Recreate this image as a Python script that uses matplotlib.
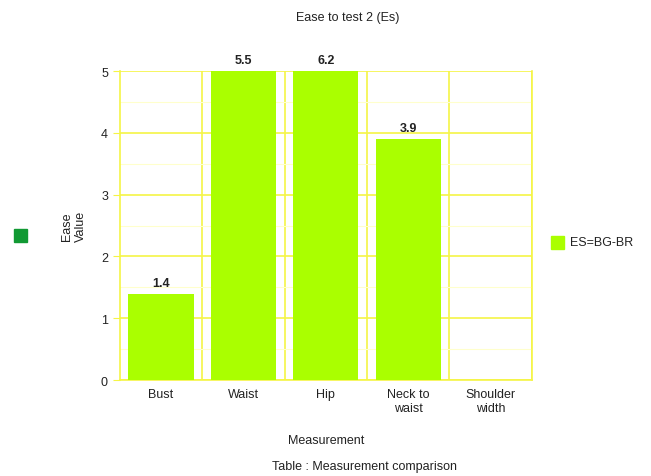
import matplotlib
matplotlib.use("Agg")
import matplotlib.pyplot as plt
from matplotlib.patches import Rectangle

plt.rcParams['font.family'] = ['Liberation Sans', 'DejaVu Sans']

categories = ["Bust", "Waist", "Hip", "Neck to\nwaist", "Shoulder\nwidth"]
values = [1.4, 5.5, 6.2, 3.9, None]
series_name = "ES=BG-BR"
y_max = 5

bar_col = "#aaff00"
grid_col = "#f5f545"

fig = plt.figure(figsize=(6.51, 4.77), dpi=100)
ax = fig.add_axes([0.184, 0.201, 0.633, 0.648])

xs = list(range(len(categories)))
shown = [v if v is not None else 0 for v in values]
ax.bar(xs, shown, width=0.79, color=bar_col, zorder=3)

for x, v in zip(xs, values):
    if v is None:
        continue
    ax.text(x, min(v, y_max) + 0.08, f"{v:.1f}", ha="center", va="bottom",
            fontsize=9, fontweight="bold", color="#222222", clip_on=False)

ax.set_xlim(-0.5, len(categories) - 0.5)
ax.set_ylim(0, y_max)
ax.set_yticks(range(0, y_max + 1))
ax.set_yticks([i + 0.5 for i in range(y_max)], minor=True)
ax.set_xticks(xs)
ax.set_xticklabels(categories, fontsize=9, color="#222222")
ax.tick_params(axis="y", which="major", labelsize=9, labelcolor="#222222",
               color=grid_col, length=5)
ax.tick_params(axis="y", which="minor", length=0)
ax.tick_params(axis="x", length=0, pad=6)

ax.grid(axis="y", which="major", color=grid_col, lw=1.2, zorder=0)
ax.grid(axis="y", which="minor", color="#ffffcc", lw=0.8, zorder=0)
for b in [i + 0.5 for i in xs]:
    ax.axvline(b, color=grid_col, lw=1.2, zorder=0)

ax.spines["top"].set_visible(False)
for s in ["left", "bottom", "right"]:
    ax.spines[s].set_color(grid_col)
    ax.spines[s].set_linewidth(1.2)

ax.set_xlabel("Measurement", fontsize=9, color="#222222", labelpad=14)
ax.set_ylabel("Ease\nValue", fontsize=9, color="#222222", labelpad=10)

fig.text(348 / 651, 1 - 18 / 477, "Ease to test 2 (Es)", ha="center",
         va="center", fontsize=9, color="#222222")
fig.text(365 / 651, 1 - 467 / 477, "Table : Measurement comparison",
         ha="center", va="center", fontsize=9, color="#222222")

# legend markers
fig.patches.append(Rectangle((14 / 651, 1 - 243 / 477), 13 / 651, 13 / 477,
                             transform=fig.transFigure, color="#119933"))
fig.patches.append(Rectangle((551 / 651, 1 - 250 / 477), 13 / 651, 13 / 477,
                             transform=fig.transFigure, color=bar_col))
fig.text(570 / 651, 1 - 243 / 477, series_name, ha="left", va="center",
         fontsize=9, color="#222222")

fig.savefig("out.png", dpi=100)
